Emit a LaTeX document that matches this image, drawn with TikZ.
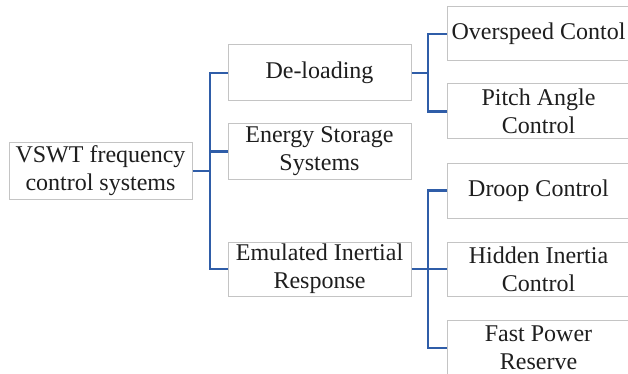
\documentclass[tikz,border=0pt]{standalone}
\usepackage{fontspec}
\setmainfont{Liberation Serif}
\definecolor{conncol}{HTML}{2F5DA8}
\definecolor{boxcol}{HTML}{C4C4C4}
\definecolor{txtcol}{HTML}{1E1E1E}
\tikzset{
  box/.style={draw=boxcol, line width=1pt, fill=white, text=txtcol, align=center,
    inner sep=0pt, minimum width=183pt, font=\fontsize{24}{28}\selectfont},
  conn/.style={draw=conncol, line width=2.2pt},
}
\begin{document}
\begin{tikzpicture}[x=1pt,y=-1pt]
\useasboundingbox[clip] (0,0) rectangle (628,374);
\fill[white] (0,0) rectangle (628,374);
\node[box, minimum height=56pt] (root) at (100.5,171) {VSWT frequency\\control systems};
\node[box, minimum height=56pt] (dl) at (319.5,73) {De-loading};
\node[box, minimum height=55pt] (es) at (319.5,151.5) {Energy Storage\\Systems};
\node[box, minimum height=54pt] (emu) at (319.5,269) {Emulated Inertial\\Response};
\node[box, minimum height=54pt] (ov) at (538.5,34) {Overspeed Contol};
\node[box, minimum height=55pt] (pa) at (538.5,111.5) {Pitch Angle\\Control};
\node[box, minimum height=55pt] (dr) at (538.5,190.5) {Droop Control};
\node[box, minimum height=54pt] (hi) at (538.5,269) {Hidden Inertia\\Control};
\node[box, minimum height=56pt] (fp) at (538.5,348) {Fast Power\\Reserve};
\coordinate (bus1) at (210,171);
\coordinate (bus2) at (428,73);
\coordinate (bus3) at (428,269);
\draw[conn] (root.east) -- (bus1);
\draw[conn] (dl.west) -| (bus1) |- (emu.west);
\draw[conn] (es.west) -- (es.west -| bus1);
\draw[conn] (dl.east) -- (bus2);
\draw[conn] (ov.west) -| (bus2) |- (pa.west);
\draw[conn] (emu.east) -- (bus3);
\draw[conn] (dr.west) -| (bus3) |- (fp.west);
\draw[conn] (hi.west) -- (bus3);
\end{tikzpicture}
\end{document}
